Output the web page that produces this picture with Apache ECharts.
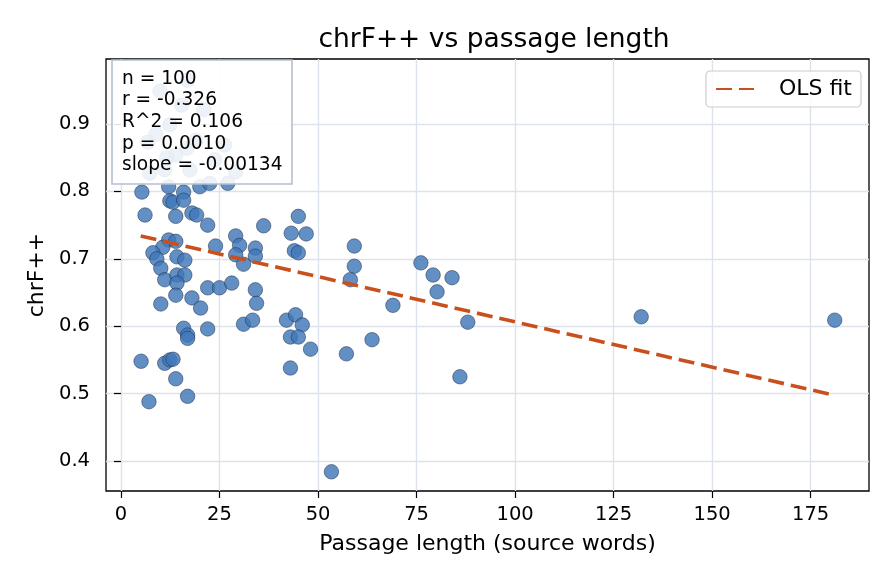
<!DOCTYPE html>
<html>
<head>
<meta charset="utf-8">
<script src="https://cdn.jsdelivr.net/npm/echarts@6/dist/echarts.min.js"></script>
<style>
	html, body { margin: 0; padding: 0; background: #fff; }
	#chart { width: 896px; height: 584px; }
</style>
</head>
<body>
<div id="chart"></div>
<script>
// passage length (source words) per item
const passageLen = [
	5.3, 12.1, 15.9, 12.4, 13.2, 15.9, 20.0, 22.5, 27.1, 6.1,
	13.9, 18.0, 19.2, 22.0, 36.2, 45.0, 43.2, 47.0, 12.1, 13.9,
	10.6, 8.1, 9.1, 10.1, 11.1, 14.2, 16.2, 14.2, 16.2, 14.2,
	13.9, 10.1, 18.0, 20.2, 22.0, 25.0, 28.1, 24.0, 29.1, 30.1,
	29.1, 31.1, 34.1, 34.1, 34.1, 34.4, 15.9, 16.9, 16.9, 22.0,
	5.1, 11.1, 12.4, 13.2, 13.9, 16.9, 7.1, 31.1, 33.4, 42.0,
	44.3, 46.0, 43.0, 45.0, 43.0, 48.1, 44.0, 45.0, 59.2, 59.2,
	58.2, 57.2, 63.7, 53.4, 69.0, 76.1, 79.2, 84.0, 80.2, 88.0,
	86.0, 132.0, 181.1, 9.9, 16.9, 15.4, 21.0, 8.9, 6.8, 13.9,
	11.6, 16.7, 7.3, 29.1, 12.4, 19.0, 23.8, 11.1, 17.5, 26.3
];
// chrF++ score per item
const chrfScore = [
	0.799, 0.807, 0.799, 0.786, 0.784, 0.787, 0.807, 0.812, 0.812, 0.765,
	0.763, 0.768, 0.765, 0.750, 0.749, 0.763, 0.738, 0.737, 0.728, 0.726,
	0.717, 0.709, 0.700, 0.686, 0.669, 0.703, 0.698, 0.676, 0.676, 0.664,
	0.646, 0.633, 0.642, 0.627, 0.657, 0.657, 0.664, 0.719, 0.734, 0.720,
	0.706, 0.692, 0.716, 0.704, 0.654, 0.634, 0.597, 0.587, 0.582, 0.596,
	0.548, 0.545, 0.550, 0.551, 0.522, 0.496, 0.488, 0.603, 0.609, 0.609,
	0.617, 0.602, 0.584, 0.584, 0.538, 0.566, 0.712, 0.709, 0.719, 0.689,
	0.669, 0.559, 0.580, 0.384, 0.631, 0.694, 0.676, 0.672, 0.651, 0.606,
	0.525, 0.614, 0.609, 0.949, 0.965, 0.928, 0.921, 0.885, 0.873, 0.854,
	0.850, 0.864, 0.827, 0.829, 0.899, 0.876, 0.847, 0.832, 0.832, 0.869
];
// OLS fit end points
const fitX = [5, 180];
const fitY = [0.734, 0.499];

const statLines = ['n = 100', 'r = -0.326', 'R^2 = 0.106', 'p = 0.0010', 'slope = -0.00134'];
const xTicks = [0, 25, 50, 75, 100, 125, 150, 175];
const yTicks = [0.4, 0.5, 0.6, 0.7, 0.8, 0.9];

const FONT = 'DejaVu Sans';

let points = passageLen.map((v, i) => [v, chrfScore[i]]);
let fitLine = fitX.map((v, i) => [v, fitY[i]]);

var myChart = echarts.init(document.getElementById('chart'));
var option = {
	backgroundColor: '#fff',
	animation: false,
	textStyle: { fontFamily: FONT },
	title: [
		{
			text: 'chrF++ vs passage length',
			left: 489,
			textAlign: 'center',
			top: 22,
			textStyle: { fontFamily: FONT, fontSize: 26.5, fontWeight: 'normal', color: '#000' },
		},
		{
			text: statLines.join('\n'),
			left: 112,
			top: 60,
			z: 20,
			padding: [8, 10, 8, 10],
			backgroundColor: 'rgba(255,255,255,0.88)',
			borderColor: '#b3bfce',
			borderWidth: 1.6,
			textStyle: { fontFamily: FONT, fontSize: 18.6, fontWeight: 'normal', color: '#000', lineHeight: 21.7 },
		},
	],
	legend: {
		data: ['OLS fit'],
		right: 35,
		top: 71,
		z: 20,
		padding: [7, 9, 7, 9],
		itemWidth: 38,
		itemHeight: 14,
		itemGap: 10,
		backgroundColor: 'rgba(255,255,255,0.8)',
		borderColor: '#cccccc',
		borderWidth: 1.2,
		borderRadius: 4,
		itemStyle: { opacity: 0 },
		textStyle: { fontFamily: FONT, fontSize: 22, color: '#000', padding: [0, 0, 0, 20] },
	},
	grid: {
		left: 106,
		right: 27,
		top: 59,
		bottom: 93,
		show: true,
		borderColor: '#000',
		borderWidth: 1.3,
	},
	xAxis: {
		type: 'value',
		min: -3.8,
		max: 189.8,
		name: 'Passage length (source words)',
		nameLocation: 'middle',
		nameGap: 42,
		nameTextStyle: { fontFamily: FONT, fontSize: 22, color: '#000' },
		axisLine: { show: false },
		axisTick: { show: true, length: 7, customValues: xTicks, lineStyle: { color: '#000', width: 1.2 } },
		axisLabel: { customValues: xTicks, fontFamily: FONT, fontSize: 19.5, color: '#000', margin: 14 },
		splitLine: { show: true, lineStyle: { color: '#dde3ec', width: 1.4 } },
	},
	yAxis: {
		type: 'value',
		min: 0.3555,
		max: 0.9965,
		name: 'chrF++',
		nameLocation: 'middle',
		nameGap: 58,
		nameTextStyle: { fontFamily: FONT, fontSize: 22, color: '#000' },
		axisLine: { show: false },
		axisTick: { show: true, length: 7, customValues: yTicks, lineStyle: { color: '#000', width: 1.2 } },
		axisLabel: {
			customValues: yTicks,
			fontFamily: FONT,
			fontSize: 19.5,
			color: '#000',
			margin: 16,
			formatter: (v) => v.toFixed(1),
		},
		splitLine: { show: true, lineStyle: { color: '#dde3ec', width: 1.4 } },
	},
	series: [
		{
			name: 'passages',
			type: 'scatter',
			data: points,
			symbolSize: 14.5,
			z: 2,
			itemStyle: {
				color: '#3f77b8',
				opacity: 0.82,
				borderColor: '#1b2840',
				borderWidth: 0.6,
			},
		},
		{
			name: 'OLS fit',
			type: 'line',
			data: fitLine,
			symbol: 'none',
			z: 3,
			lineStyle: { color: '#c9501c', width: 3.6, type: [16, 7] },
			itemStyle: { color: '#c9501c' },
		},
	],
};
option && myChart.setOption(option);
</script>
</body>
</html>
